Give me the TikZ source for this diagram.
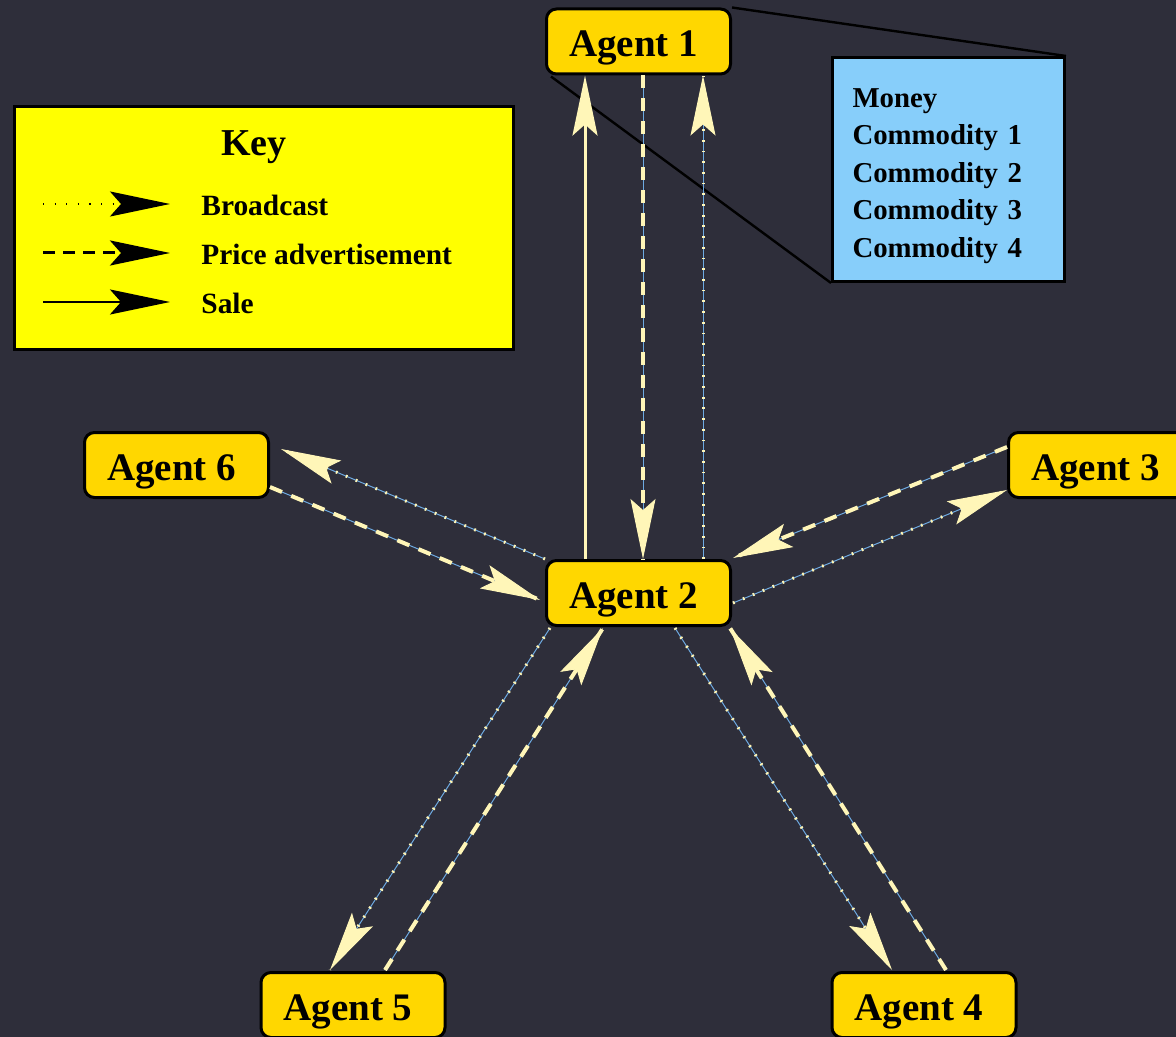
\documentclass[tikz,border=0pt]{standalone}
\usepackage{fontspec}
\setmainfont{Liberation Serif}
\usetikzlibrary{arrows.meta, backgrounds}
\definecolor{mbg}{RGB}{46,46,58}
\definecolor{mgold}{RGB}{255,215,0}
\definecolor{mkey}{RGB}{255,255,0}
\definecolor{msky}{RGB}{135,206,250}
\definecolor{mcream}{RGB}{255,246,184}
\definecolor{mline}{RGB}{110,170,225}

\begin{document}
\begin{tikzpicture}[x=0.5pt,y=-0.5pt,
  agent/.style={draw,line width=1.5pt,rounded corners=5pt,fill=mgold,
  minimum width=92pt,minimum height=32.5pt,inner sep=0pt,text height=15.5pt,text depth=0pt,
  font=\fontsize{19.5}{22}\selectfont\bfseries,execute at end node=\hspace{5pt}},
  arr/.style={-{Stealth[length=30pt,width=12.5pt,inset=5.5pt,color=#1]}},
  sale/.style={draw=mcream,line width=1.5pt,arr=mcream},
  bcast/.style={draw=mline,line width=0.5pt,arr=mcream,
  postaction={draw=mcream,-,line width=1.5pt,dash pattern=on 0.9pt off 4.45pt}},
  price/.style={draw=mline,line width=0.5pt,arr=mcream,
  postaction={draw=mcream,-,line width=2pt,dash pattern=on 6.5pt off 5pt}},
  ksale/.style={draw=black,line width=1pt,arr=black},
  kbcast/.style={draw=black,line width=0.9pt,dash pattern=on 0.6pt off 5.2pt,arr=black},
  kprice/.style={draw=black,line width=1.5pt,dash pattern=on 6pt off 4pt,arr=black},
  keytext/.style={anchor=west,inner sep=0pt,font=\fontsize{14.7}{17}\selectfont\bfseries},
]
\useasboundingbox (0,0) rectangle (1176,1037);
\clip (0,0) rectangle (1176,1037);

\node[draw,line width=1.5pt,fill=mkey,minimum width=249.5pt,minimum height=121.5pt,inner sep=0pt] (key) at (264,228) {};
\node[font=\fontsize{19}{22}\selectfont\bfseries] (keytitle) at (254,147) {Key};
\node[keytext] (lbcast) at (201,205) {Broadcast};
\node[keytext] (lprice) at (201,254) {Price advertisement};
\node[keytext] (lsale) at (201,303) {Sale};
\coordinate (kb) at (43,204);
\coordinate (kp) at (43,253);
\coordinate (ks) at (43,302);
\draw[kbcast] (kb) -- ([xshift=-15.5pt,yshift=0.5pt]lbcast.west);
\draw[kprice] (kp) -- ([xshift=-15.5pt,yshift=0.5pt]lprice.west);
\draw[ksale] (ks) -- ([xshift=-15.5pt,yshift=0.5pt]lsale.west);

\node[draw,line width=1.5pt,fill=msky,text width=96pt,inner xsep=10pt,minimum height=112pt,align=left,
  font=\fontsize{14.4}{18.75}\selectfont\bfseries] (info) at (948.5,169.5)
  {\rule{0pt}{16pt}Money\\Commodity 1\\Commodity 2\\Commodity 3\\Commodity 4};

\node[agent] (a1) at (638.5,41.5) {Agent 1};
\node[agent] (a2) at (638.5,593) {Agent 2};
\node[agent] (a3) at (1100.5,465) {Agent 3};
\node[agent] (a4) at (924,1005) {Agent 4};
\node[agent] (a5) at (353,1005) {Agent 5};
\node[agent] (a6) at (176.5,465) {Agent 6};

\draw[sale] ([shift={(-53.5,0)}]a2.north) -- ([shift={(-53.5,0)}]a1.south);
\draw[price] ([shift={(4.5,0)}]a1.south) -- ([shift={(4.5,0)}]a2.north);
\draw[bcast] ([shift={(64.5,0)}]a2.north) -- ([shift={(64.5,0)}]a1.south);

\draw[bcast] (a2.north west) -- ([shift={(11,18)}]a6.north east);
\draw[price] ([shift={(0,22)}]a6.east) -- ([shift={(-5,7)}]a2.west);

\draw[price] ([shift={(0,-18)}]a3.west) -- ([shift={(1,-1)}]a2.north east);
\draw[bcast] ([shift={(1,10)}]a2.east) -- ([shift={(0,25)}]a3.west);

\draw[bcast] ([shift={(5,1)}]a2.south west) -- ([shift={(-23,-1)}]a5.north);
\draw[price] ([shift={(32,-1)}]a5.north) -- ([shift={(-35.5,1)}]a2.south);

\draw[bcast] ([shift={(36.5,1)}]a2.south) -- ([shift={(-32,-1)}]a4.north);
\draw[price] ([shift={(22,-1)}]a4.north) -- ([shift={(-2,1)}]a2.south east);

\begin{scope}[on background layer]
\fill[mbg] (0,0) rectangle (1176,1037);
\draw[line width=1.2pt] (a1.north east) -- (info.north east);
\draw[line width=1.2pt] ([shift={(6,1)}]a1.south west) -- (info.south west);
\end{scope}
\end{tikzpicture}
\end{document}
